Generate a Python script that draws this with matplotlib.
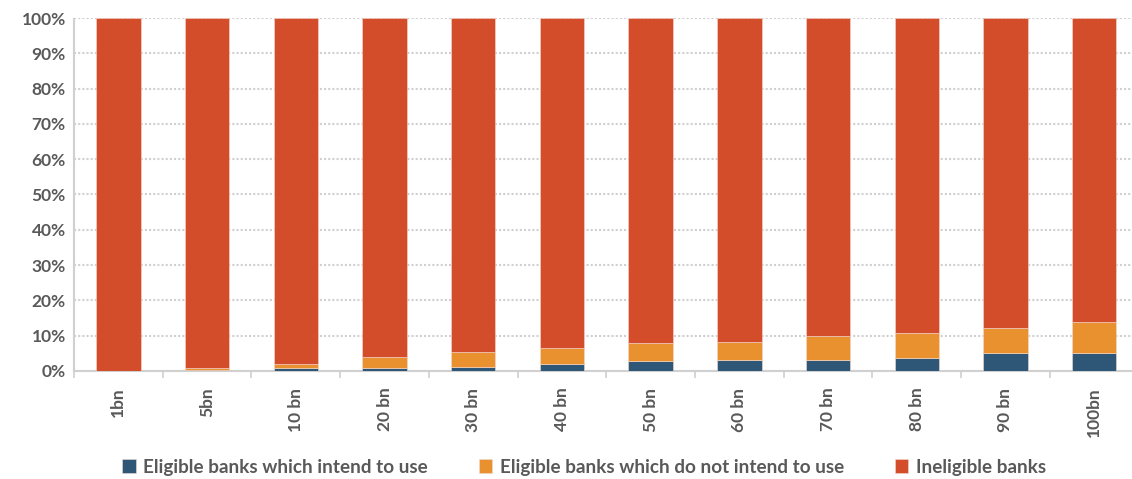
import numpy as np
import matplotlib.pyplot as plt
from matplotlib.ticker import PercentFormatter

categories = ['1bn', '5bn', '10 bn', '20 bn', '30 bn', '40 bn', '50 bn',
              '60 bn', '70 bn', '80 bn', '90 bn', '100bn']
intend = [0.0, 0.4, 0.8, 0.9, 1.2, 1.9, 2.9, 3.2, 3.2, 3.6, 5.0, 5.0]
not_intend = [0.0, 0.4, 1.1, 3.0, 4.2, 4.5, 4.9, 5.0, 6.8, 7.1, 7.1, 8.8]
ineligible = [100 - a - b for a, b in zip(intend, not_intend)]

labels = ['Eligible banks which intend to use',
          'Eligible banks which do not intend to use',
          'Ineligible banks']
colors = ['#2E5677', '#E9912F', '#D44D2A']

plt.rcParams['font.family'] = ['Lato', 'DejaVu Sans']
text_col = '#595959'
grid_col = '#D0D0D0'

fig = plt.figure(figsize=(11.32, 4.79), dpi=100)
ax = fig.add_axes([0.0654, 0.2255, 0.9404, 0.7369])

x = np.arange(len(categories))
bottom = np.zeros(len(categories))
for vals, col, lab in zip([intend, not_intend, ineligible], colors, labels):
    ax.bar(x, vals, 0.5, bottom=bottom, color=col, label=lab,
           edgecolor='#F4D9D0', linewidth=0.4, zorder=3)
    bottom += np.array(vals)

ax.set_xlim(-0.5, len(categories) - 0.5)
ax.set_ylim(0, 100)
ax.set_yticks(np.arange(0, 101, 10))
ax.yaxis.set_major_formatter(PercentFormatter(decimals=0))
ax.yaxis.grid(True, color=grid_col, linestyle=(0, (1, 1)), linewidth=1.5, zorder=0)

ax.set_xticks(x)
ax.set_xticklabels(categories, rotation=90)
ax.set_xticks(np.arange(-0.5, len(categories)), minor=True)
ax.tick_params(axis='x', which='major', length=0, pad=12)
ax.tick_params(axis='x', which='minor', length=5, color=grid_col, width=1.2)
ax.tick_params(axis='y', length=0, pad=6)
for lbl in ax.get_xticklabels() + ax.get_yticklabels():
    lbl.set_fontweight('bold')
    lbl.set_color(text_col)
    lbl.set_fontsize(12.5)

for side in ['top', 'right']:
    ax.spines[side].set_visible(False)
for side in ['left', 'bottom']:
    ax.spines[side].set_color(grid_col)
    ax.spines[side].set_linestyle((0, (1, 1)))
    ax.spines[side].set_linewidth(1.5)

leg = fig.legend(loc='center', bbox_to_anchor=(0.516, 0.025), ncol=3, frameon=False,
                 handlelength=0.7, handleheight=0.7, handletextpad=0.4,
                 columnspacing=2.7, prop={'weight': 'bold', 'size': 13.6})
for t in leg.get_texts():
    t.set_color(text_col)

fig.savefig('out.png', dpi=100)
